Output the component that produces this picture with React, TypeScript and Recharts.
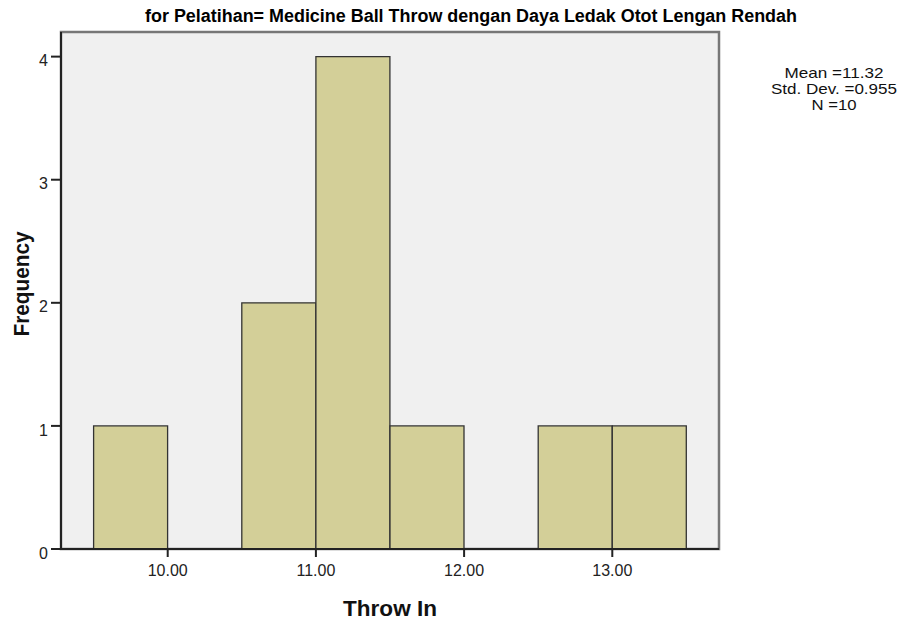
import {
  ComposedChart,
  Bar,
  XAxis,
  YAxis,
  CartesianGrid,
  ReferenceArea,
} from 'recharts';

// histogram bins (midpoints, width 0.5) and frequencies
const binMids = [9.75, 10.25, 10.75, 11.25, 11.75, 12.25, 12.75, 13.25];
const freqs = [1, 0, 2, 4, 1, 0, 1, 1];
const xTicks = [10, 11, 12, 13];
const yTicks = [0, 1, 2, 3, 4];
const xDomain = [9.28, 13.72];
const yDomain = [0, 4.2];
const statLines = ['Mean =11.32', 'Std. Dev. =0.955', 'N =10'];
const statWidths = [99, 126, 45];

const data = binMids.map((m, i) => ({ mid: m, count: freqs[i] }));

const W = 902;
const H = 625;
const FONT = 'Liberation Sans, Arial, sans-serif';

function XTick({ x, y, payload }: any) {
  return (
    <text x={x} y={y} dy="0.71em" textAnchor="middle" fontSize={16} fill="#222" fontFamily={FONT}>
      {Number(payload.value).toFixed(2)}
    </text>
  );
}

function YTick({ x, y, payload }: any) {
  return (
    <text x={x} y={y + 4} dy="0.355em" textAnchor="end" fontSize={16} fill="#222" fontFamily={FONT}>
      {payload.value}
    </text>
  );
}

export default function App() {
  return (
    <div style={{ position: 'absolute', left: 0, top: 0, width: W, height: H, background: '#fff' }}>
      <ComposedChart
        width={W}
        height={H}
        data={data}
        margin={{ top: 32, right: 183, bottom: 30, left: 0 }}
        barCategoryGap={0}
        barGap={0}
        style={{ fontFamily: FONT }}
      >
        <CartesianGrid fill="#f0f0f0" stroke="none" />
        {/* plot frame */}
        <ReferenceArea
          x1={xDomain[0]}
          x2={xDomain[1]}
          y1={yDomain[0]}
          y2={yDomain[1]}
          fill="none"
          fillOpacity={0}
          stroke="#777"
          strokeWidth={2.5}
          ifOverflow="visible"
        />
        <XAxis
          dataKey="mid"
          type="number"
          domain={xDomain}
          ticks={xTicks}
          tick={<XTick />}
          tickSize={8}
          tickMargin={8}
          height={46}
          axisLine={{ stroke: '#222', strokeWidth: 2 }}
          tickLine={{ stroke: '#222', strokeWidth: 2 }}
          allowDataOverflow
        />
        <YAxis
          domain={yDomain}
          ticks={yTicks}
          allowDecimals={false}
          tick={<YTick />}
          tickSize={10}
          tickMargin={3}
          width={61}
          axisLine={{ stroke: '#222', strokeWidth: 2 }}
          tickLine={{ stroke: '#222', strokeWidth: 2 }}
        />
        <Bar
          dataKey="count"
          fill="#d3cf98"
          stroke="#333"
          strokeWidth={1.3}
          isAnimationActive={false}
        />
        <text
          x={471}
          y={22}
          textAnchor="middle"
          fontFamily={FONT}
          fontWeight="bold"
          fontSize={17.5}
          fill="#000"
          textLength={652}
          lengthAdjust="spacingAndGlyphs"
        >
          for Pelatihan= Medicine Ball Throw dengan Daya Ledak Otot Lengan Rendah
        </text>
        <text
          x={390}
          y={616}
          textAnchor="middle"
          fontWeight="bold"
          fontSize={22}
          fill="#111"
          textLength={94}
          lengthAdjust="spacingAndGlyphs"
        >
          Throw In
        </text>
        <text
          x={28.5}
          y={284}
          textAnchor="middle"
          fontWeight="bold"
          fontSize={22}
          fill="#111"
          textLength={105}
          lengthAdjust="spacingAndGlyphs"
          transform="rotate(-90 28.5 284)"
        >
          Frequency
        </text>
        {statLines.map((s, i) => (
          <text
            key={s}
            x={834}
            y={78 + i * 16}
            textAnchor="middle"
            fontSize={15}
            fill="#111"
            textLength={statWidths[i]}
            lengthAdjust="spacingAndGlyphs"
          >
            {s}
          </text>
        ))}
      </ComposedChart>
    </div>
  );
}
